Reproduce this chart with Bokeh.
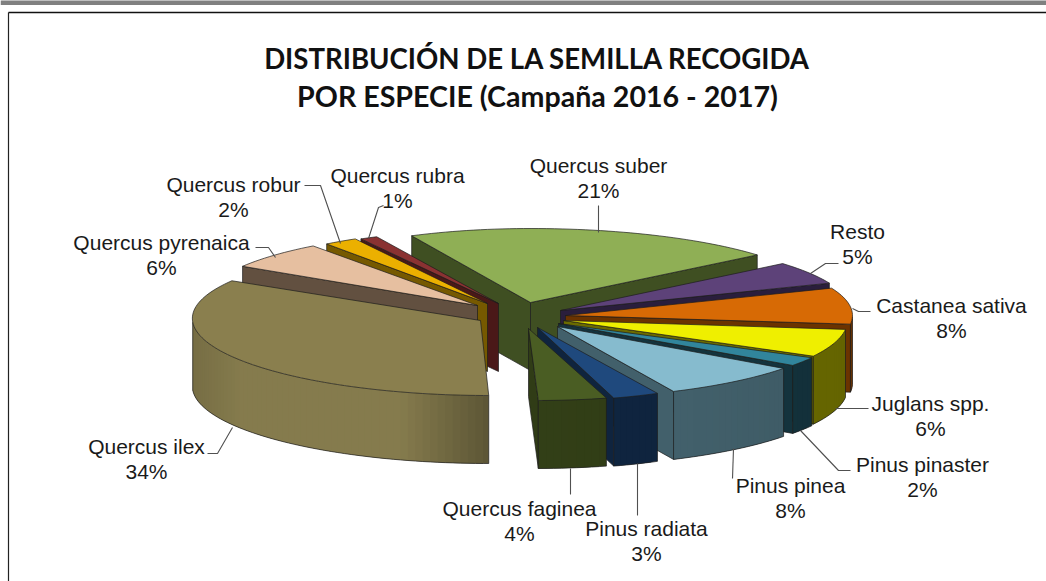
import math
from bokeh.plotting import figure
from bokeh.embed import file_html
from bokeh.resources import INLINE
from bokeh.models import Range1d
from bokeh.core.properties import value

title_lines = ["DISTRIBUCIÓN DE LA SEMILLA RECOGIDA", "POR ESPECIE (Campaña 2016 - 2017)"]
species = ["Quercus suber", "Resto", "Castanea sativa", "Juglans spp.", "Pinus pinaster", "Pinus pinea",
           "Pinus radiata", "Quercus faginea", "Quercus ilex", "Quercus pyrenaica", "Quercus robur", "Quercus rubra"]
percent = [21, 5, 8, 6, 2, 8, 3, 4, 34, 6, 2, 1]

# colours
top_color = ["#8FAF55", "#5D4279", "#D76A05", "#EFEF00", "#31859C", "#86BBCE",
             "#1F497D", "#4A5D23", "#8A7F4E", "#E6BFA0", "#EBB000", "#8A3232"]
wall_color = ["#3F4F22", "#2A1E3C", "#6B3300", "#6B6B00", "#14333D", "#42606B",
              "#0F243E", "#303C16", "#857B4D", "#625040", "#765900", "#4A1818"]

# layout of the exploded, tilted pie (pixel space of the picture)
START_ANGLE = -25.6
DEPTH = 68
apex_x = [530, 560, 565, 563, 558, 557, 537, 528, 480, 477, 487, 498]
apex_y = [302, 310, 315, 320, 323, 326, 327, 328, 320, 305, 303, 303]
radius_x_right = [296, 290, 287, 284, 288, 283, 252, 275, 0, 280, 280, 280]
radius_x_left = [275, 270, 270, 270, 270, 270, 270, 270, 288, 277, 271, 282]
radius_y = [74, 73, 73, 75, 72, 72, 73, 72, 75, 74, 74, 74]
shear = [0, 0, 0, 0, 0, -0.096, 0.168, 0.11, 0.11, 0, 0, 0]
draw_order = [0, 11, 10, 9, 8, 1, 2, 3, 4, 5, 6, 7]
left_group = {0, 8, 9, 10, 11}

label_x = [598, 857, 951, 930, 922, 790, 646, 519, 146, 161, 233, 397]
label_y = [165, 231, 305, 403, 464, 485, 528, 508, 446, 242, 184, 175]
leader_x = [[598, 598], [810, 825, 838], [852, 858, 870], [835, 868], [800, 838, 850], [733, 732],
            [637, 637], [570, 570], [232, 217, 207], [275, 268, 255], [340, 320, 304], [368, 378, 383]]
leader_y = [[205, 232], [273, 263, 263], [308, 311, 311], [408, 408], [430, 470, 470], [448, 478],
            [463, 515], [468, 494], [427, 453, 453], [257, 247, 247], [243, 185, 185], [238, 207, 205]]

W, H = 1046, 581
p = figure(width=W, height=H, output_backend="svg", toolbar_location=None,
           x_range=Range1d(0, W), y_range=Range1d(H, 0), min_border=0, margin=0)
p.axis.visible = False
p.grid.visible = False
p.outline_line_color = None
p.background_fill_color = "white"
p.border_fill_color = "white"

# page furniture
p.line([0, W], [2, 2], line_color="#808080", line_width=5)
p.line([8, 8], [H, 12], line_color="#222222", line_width=1.2)
p.line([8, W], [12, 12], line_color="#111111", line_width=1.6)


def mix(hexcolor, f):
    r, g, b = [int(hexcolor[i:i + 2], 16) for i in (1, 3, 5)]
    return "#%02x%02x%02x" % tuple(max(0, min(255, int(c * f))) for c in (r, g, b))


def arc_point(i, angle):
    t = math.radians(angle)
    s = math.sin(t)
    rx = radius_x_right[i] if s > 0 else radius_x_left[i]
    dy = -radius_y[i] * math.cos(t)
    return apex_x[i] + rx * s + shear[i] * dy, apex_y[i] + dy


def wall_shade(i, angle):
    s = math.sin(math.radians(angle))
    if i == 8:  # the large slice: lit in the middle, darker at both ends
        m = -s
        if m < 0.3:
            return 0.7 + 0.3 * m / 0.3
        return 1.0 - 0.1 * max(0, (m - 0.85) / 0.15)
    return 1.0 + 0.12 * (0.5 - abs(s))


EDGE = "#1c1c1c"
start = START_ANGLE
angles = []
for v in percent:
    angles.append((start, start + v * 3.6))
    start += v * 3.6

for i in draw_order:
    a0, a1 = angles[i]
    ax, ay = apex_x[i], apex_y[i]
    # cut faces that look to the viewer
    cuts = [a0] if i in left_group else [a1]
    if i == 0:
        cuts = [a0, a1]
    if i != 8:
        for cut in cuts:
            cx, cy = arc_point(i, cut)
            p.patch([ax, cx, cx, ax], [ay, cy, cy + DEPTH, ay + DEPTH],
                    fill_color=wall_color[i], line_color=EDGE, line_width=0.7)
    # outer wall, front half only, in narrow overlapping strips so that it can shade
    steps = max(2, int((a1 - a0) / 1.5))
    arc = [a0 + (a1 - a0) * k / steps for k in range(steps + 1)]
    wall = [a for a in arc if 90 <= (a % 360) <= 270]
    if len(wall) > 1:
        for k in range(len(wall) - 1):
            x0, y0 = arc_point(i, wall[k])
            x1, y1 = arc_point(i, wall[min(k + 2, len(wall) - 1)])
            c = mix(wall_color[i], wall_shade(i, (wall[k] + wall[k + 1]) / 2))
            p.patch([x0, x1, x1, x0], [y0, y1, y1 + DEPTH, y0 + DEPTH], fill_color=c, line_color=None)
        pts = [arc_point(i, a) for a in wall]
        p.line([q[0] for q in pts] + [pts[-1][0]], [q[1] + DEPTH for q in pts] + [pts[-1][1]],
               line_color=EDGE, line_width=0.7)
        p.line([pts[0][0], pts[0][0]], [pts[0][1], pts[0][1] + DEPTH], line_color=EDGE, line_width=0.7)
    # top face
    pts = [arc_point(i, a) for a in arc]
    p.patch([ax] + [q[0] for q in pts], [ay] + [q[1] for q in pts],
            fill_color=top_color[i], line_color=EDGE, line_width=0.7)

# leader lines and labels
for xs, ys in zip(leader_x, leader_y):
    p.line(xs, ys, line_color="#505050", line_width=1.1)

font = value("Liberation Sans")
p.text(label_x, label_y, text=species, text_font=font, text_font_size="21px",
       text_align="center", text_baseline="middle", text_color="#1a1a1a")
p.text(label_x, [y + 24.5 for y in label_y], text=["%d%%" % v for v in percent], text_font=font,
       text_font_size="21px", text_align="center", text_baseline="middle", text_color="#1a1a1a")
title_font = value("Lato")
p.text([537], [58], text=title_lines[:1], text_font=title_font, text_font_style="bold",
       text_font_size="27.6px", text_align="center", text_baseline="middle", text_color="#111111")
p.text([537], [95], text=title_lines[1:], text_font=title_font, text_font_style="bold",
       text_font_size="28.6px", text_align="center", text_baseline="middle", text_color="#111111")

open("out.html", "w").write(file_html(p, INLINE))
